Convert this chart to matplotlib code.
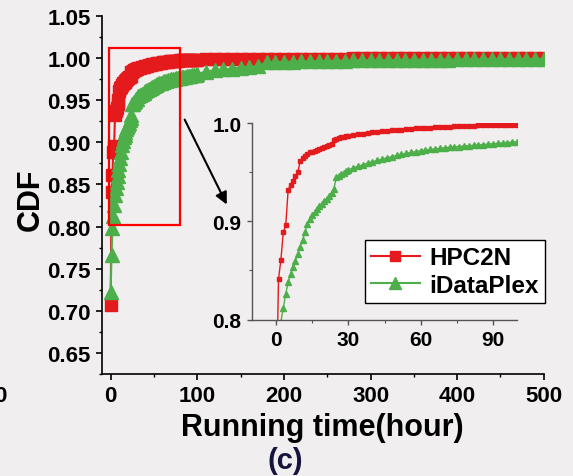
import matplotlib.pyplot as plt
from matplotlib.patches import Rectangle
from matplotlib.lines import Line2D
from matplotlib.ticker import MultipleLocator, FormatStrFormatter

plt.rcParams['font.family'] = ['Liberation Sans', 'DejaVu Sans']
plt.rcParams['font.weight'] = 'bold'

# sampling grid (hours): fine near the origin, coarser in the tail
hours = list(range(0, 31)) + list(range(32, 101, 2)) + list(range(110, 501, 10))

hpc2n_cdf = [
    0.707, 0.841, 0.861, 0.889, 0.896, 0.932, 0.937, 0.941, 0.946, 0.950,
    0.961, 0.964, 0.966, 0.968, 0.970, 0.971, 0.972, 0.973, 0.974, 0.975,
    0.976, 0.977, 0.978, 0.979, 0.983, 0.984, 0.985, 0.9855, 0.986, 0.9865,
    0.987,
    0.9878, 0.9885, 0.9892, 0.9898, 0.9904, 0.9910, 0.9915, 0.9920, 0.9925, 0.9930,
    0.9934, 0.9938, 0.9942, 0.9945, 0.9948, 0.9951, 0.9954, 0.9957, 0.9960, 0.9962,
    0.9964, 0.9966, 0.9968, 0.9970, 0.9972, 0.9973, 0.9975, 0.9976, 0.9977, 0.9978,
    0.9979, 0.9980, 0.9981, 0.9982, 0.9983,
    0.9985, 0.9986, 0.9987, 0.9988, 0.9989, 0.9990, 0.9990, 0.9991, 0.9992, 0.9992,
    0.9993, 0.9993, 0.9994, 0.9994, 0.9995, 0.9995, 0.9995, 0.9996, 0.9996, 0.9996,
    0.9997, 0.9997, 0.9997, 0.9997, 0.9997, 0.9998, 0.9998, 0.9998, 0.9998, 0.9998,
    0.9998, 0.9999, 0.9999, 0.9999, 0.9999, 0.9999, 0.9999, 1.0, 1.0, 1.0,
]

idataplex_cdf = [
    0.722, 0.766, 0.798, 0.812, 0.826, 0.838, 0.846, 0.853, 0.860, 0.867,
    0.874, 0.881, 0.889, 0.897, 0.902, 0.906, 0.909, 0.912, 0.916, 0.918,
    0.921, 0.923, 0.926, 0.929, 0.933, 0.945, 0.946, 0.948, 0.949, 0.951,
    0.952,
    0.9545, 0.956, 0.9575, 0.959, 0.9605, 0.962, 0.9632, 0.9645, 0.9658, 0.967,
    0.968, 0.969, 0.970, 0.971, 0.9718, 0.9725, 0.9731, 0.9737, 0.9743, 0.9748,
    0.9753, 0.9757, 0.9761, 0.9765, 0.9769, 0.9773, 0.9777, 0.9781, 0.9785, 0.9789,
    0.9793, 0.9797, 0.9801, 0.9805, 0.9810,
    0.9840, 0.9855, 0.9866, 0.9876, 0.9886, 0.9895, 0.9905, 0.9950, 0.9953, 0.9956,
    0.9958, 0.9960, 0.9962, 0.9964, 0.9966, 0.9968, 0.9970, 0.9972, 0.9973, 0.9975,
    0.9976, 0.9977, 0.9978, 0.9979, 0.9980, 0.9981, 0.9982, 0.9983, 0.9983, 0.9984,
    0.9985, 0.9986, 0.9986, 0.9987, 0.9987, 0.9988, 0.9988, 0.9989, 0.9989, 0.9990,
]

series_names = ['HPC2N', 'iDataPlex']
RED = '#e41a1c'
GREEN = '#4daf4a'
BG = '#f0eeef'

fig = plt.figure(figsize=(5.73, 4.77), dpi=100, facecolor=BG)

# ---- main axes ----
ax = fig.add_axes([0.178, 0.2138, 0.771, 0.7506], facecolor=BG)
ax.plot(hours, hpc2n_cdf, color=RED, marker='s', markersize=8, lw=1.5)
ax.plot(hours, idataplex_cdf, color=GREEN, marker='^', markersize=9.5, lw=1.5)
ax.set_xlim(-10, 500)
ax.set_ylim(0.625, 1.05)
ax.xaxis.set_major_locator(MultipleLocator(100))
ax.xaxis.set_minor_locator(MultipleLocator(50))
ax.yaxis.set_major_locator(MultipleLocator(0.05))
ax.yaxis.set_minor_locator(MultipleLocator(0.025))
ax.yaxis.set_major_formatter(FormatStrFormatter('%.2f'))
for s in ['top', 'right']:
    ax.spines[s].set_visible(False)
for s in ['left', 'bottom']:
    ax.spines[s].set_linewidth(1.2)
ax.tick_params(which='major', length=4, width=1.2, labelsize=16, pad=4)
ax.tick_params(which='minor', length=2.5, width=1.0)
ax.set_ylabel('CDF', fontsize=22, fontweight='bold')
ax.yaxis.set_label_coords(-0.127, 0.49)
ax.set_xlabel('Running time(hour)', fontsize=22, fontweight='bold')
ax.xaxis.set_label_coords(0.498, -0.105)

# zoomed region marker and arrow toward the inset
ax.add_patch(Rectangle((-2, 0.802), 82, 0.21, fill=False, edgecolor='#ff0000', lw=1.6, zorder=5))
ax.annotate('', xy=(228 / 573, 1 - 208 / 477), xycoords='figure fraction',
            xytext=(84, 0.930), textcoords='data',
            arrowprops=dict(arrowstyle='-|>', color='black', lw=1.5, mutation_scale=18))

# ---- inset ----
ins = fig.add_axes([0.4398, 0.328, 0.4625, 0.412], facecolor=BG)
ins.plot(hours, hpc2n_cdf, color=RED, marker='s', markersize=3.2, lw=1.0)
ins.plot(hours, idataplex_cdf, color=GREEN, marker='^', markersize=3.8, lw=1.0)
ins.set_xlim(-10, 100)
ins.set_ylim(0.8, 1.0)
ins.xaxis.set_major_locator(MultipleLocator(30))
ins.xaxis.set_minor_locator(MultipleLocator(15))
ins.yaxis.set_major_locator(MultipleLocator(0.1))
ins.yaxis.set_minor_locator(MultipleLocator(0.05))
ins.yaxis.set_major_formatter(FormatStrFormatter('%.1f'))
for s in ['top', 'right']:
    ins.spines[s].set_visible(False)
for s in ['left', 'bottom']:
    ins.spines[s].set_color('#555555')
    ins.spines[s].set_linewidth(1.0)
ins.tick_params(which='major', length=3.5, width=1.0, color='#555555', labelsize=15, pad=4)
ins.tick_params(which='minor', length=2, width=0.8, color='#555555')

handles = [
    Line2D([], [], color=RED, marker='s', markersize=6.5, lw=1.5),
    Line2D([], [], color=GREEN, marker='^', markersize=8, lw=1.5),
]
leg = ins.legend(handles, series_names, loc='lower right',
                 bbox_to_anchor=(545 / 573, 1 - 304 / 477), bbox_transform=fig.transFigure,
                 prop={'size': 17.5, 'weight': 'bold'}, fancybox=False, framealpha=1,
                 edgecolor='black', handlelength=2.0, handletextpad=0.4,
                 borderpad=0.25, labelspacing=0.2, borderaxespad=0)
leg.get_frame().set_facecolor('white')
leg.get_frame().set_linewidth(1.0)

fig.text(285 / 573, 1 - 461 / 477, '(c)', fontsize=21, fontweight='bold',
         color='#14143c', ha='center', va='center')
fig.text(0.0, 1 - 397 / 477, '0', fontsize=16, fontweight='bold', ha='center', va='center')

fig.savefig('out.png', dpi=100, facecolor=BG)
